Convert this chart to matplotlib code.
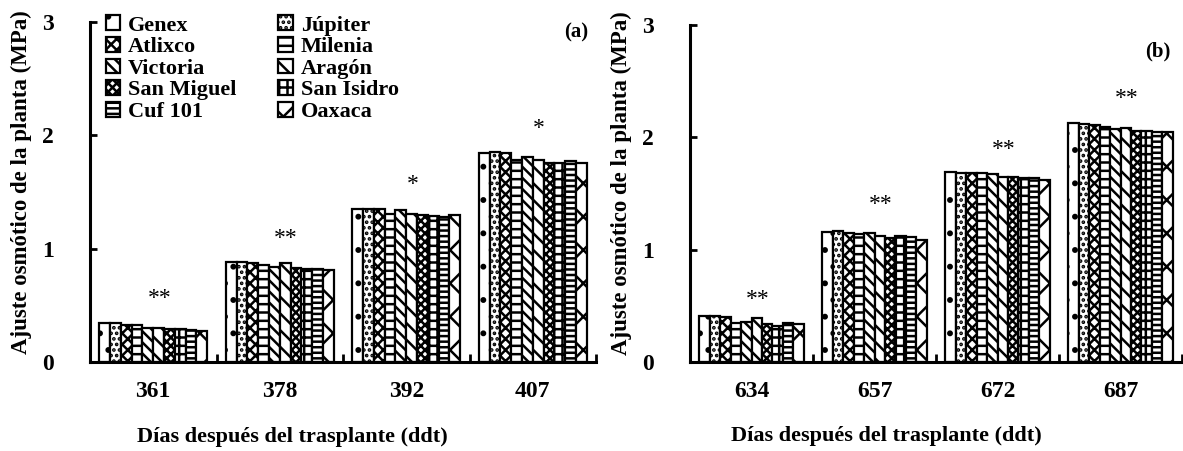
import numpy as np
import matplotlib.pyplot as plt

plt.rcParams['font.family'] = ['Liberation Serif', 'DejaVu Serif']
plt.rcParams['font.weight'] = 'bold'
plt.rcParams['hatch.linewidth'] = 1.8

# cultivars (bar order inside each group)
cultivars = ["Genex", "Júpiter", "Atlixco", "Milenia", "Victoria",
             "Aragón", "San Miguel", "San Isidro", "Cuf 101", "Oaxaca"]
hatches = ['.', '...', 'xxx', '--', '\\\\\\', '\\\\', 'xxxx', '++', '---', 'x']

# panel (a)
days_a = ["361", "378", "392", "407"]
vals_a = [
    [0.34, 0.34, 0.33, 0.33, 0.30, 0.30, 0.29, 0.29, 0.28, 0.27],
    [0.88, 0.88, 0.87, 0.86, 0.84, 0.87, 0.83, 0.82, 0.82, 0.81],
    [1.35, 1.35, 1.35, 1.31, 1.34, 1.31, 1.30, 1.29, 1.28, 1.30],
    [1.84, 1.85, 1.84, 1.78, 1.81, 1.78, 1.76, 1.76, 1.77, 1.76],
]
sig_a = ["**", "**", "*", "*"]
sig_y_a = [0.56, 1.09, 1.57, 2.06]

# panel (b)
days_b = ["634", "657", "672", "687"]
vals_b = [
    [0.41, 0.41, 0.40, 0.35, 0.36, 0.39, 0.34, 0.32, 0.35, 0.34],
    [1.16, 1.17, 1.15, 1.14, 1.15, 1.12, 1.10, 1.12, 1.11, 1.09],
    [1.69, 1.68, 1.68, 1.68, 1.67, 1.65, 1.65, 1.64, 1.64, 1.62],
    [2.13, 2.12, 2.11, 2.09, 2.07, 2.08, 2.06, 2.06, 2.05, 2.05],
]
sig_b = ["**", "**", "**", "**"]
sig_y_b = [0.56, 1.40, 1.89, 2.35]

ylabel = "Ajuste osmótico de la planta (MPa)"
xlabel = "Días después del trasplante (ddt)"

fig = plt.figure(figsize=(11.83, 4.51), dpi=100)
ax_a = fig.add_axes([90 / 1183, 1 - 362 / 451, 506 / 1183, 340 / 451])
ax_b = fig.add_axes([690 / 1183, 1 - 362 / 451, 492 / 1183, 337 / 451])


def draw_panel(ax, days, vals, sig, sig_y, tag, tag_xy, xmax, xlab_x, ylab_x):
    n = len(cultivars)
    group_w = 0.85
    w = group_w / n
    x = np.arange(len(days))
    vals = np.array(vals)
    handles = []
    for i in range(n):
        pos = x - group_w / 2 + w * (i + 0.5)
        b = ax.bar(pos, vals[:, i], width=w, color='white', edgecolor='black',
                   linewidth=1.6, hatch=hatches[i], label=cultivars[i])
        handles.append(b)
    for xi, s, yy in zip(x, sig, sig_y):
        ax.text(xi + 0.05, yy, s, ha='center', va='center', fontsize=17,
                fontweight='normal')
    ax.set_xlim(-0.5, xmax)
    ax.set_ylim(0, 3)
    ax.set_yticks([0, 1, 2, 3])
    ax.set_xticks(x)
    ax.set_xticklabels(days)
    ax.set_xticks(np.arange(len(days)) + 0.5, minor=True)
    ax.tick_params(axis='x', which='major', length=0, pad=14, labelsize=17)
    ax.tick_params(axis='x', which='minor', direction='in', length=6, width=2)
    ax.tick_params(axis='y', direction='in', length=5, width=2, pad=26, labelsize=17)
    for side in ['top', 'right']:
        ax.spines[side].set_visible(False)
    for side in ['left', 'bottom']:
        ax.spines[side].set_linewidth(2.2)
    ax.set_ylabel(ylabel, fontsize=16.5, fontweight='bold')
    ax.yaxis.set_label_coords(ylab_x, 0.53)
    ax.set_xlabel(xlabel, fontsize=16, fontweight='bold')
    ax.xaxis.set_label_coords(xlab_x, -0.19)
    ax.text(tag_xy[0], tag_xy[1], tag, transform=ax.transAxes, fontsize=15,
            fontweight='bold', ha='center', va='center')
    return handles


h = draw_panel(ax_a, days_a, vals_a, sig_a, sig_y_a, "(a)", (0.96, 0.97), 3.5, 0.40, -0.115)
draw_panel(ax_b, days_b, vals_b, sig_b, sig_y_b, "(b)", (0.95, 0.92), 3.455, 0.40, -0.118)

# legend reads row by row: reorder for matplotlib's column filling
order = list(range(0, 10, 2)) + list(range(1, 10, 2))
ax_a.legend([h[i] for i in order], [cultivars[i] for i in order], ncol=2,
            loc='upper left', bbox_to_anchor=(0.0, 1.065), frameon=False,
            fontsize=16, handlelength=0.65, handleheight=0.65,
            handletextpad=0.35, labelspacing=0.06, columnspacing=1.9,
            borderaxespad=0.3)

fig.savefig("out.png", dpi=100)
